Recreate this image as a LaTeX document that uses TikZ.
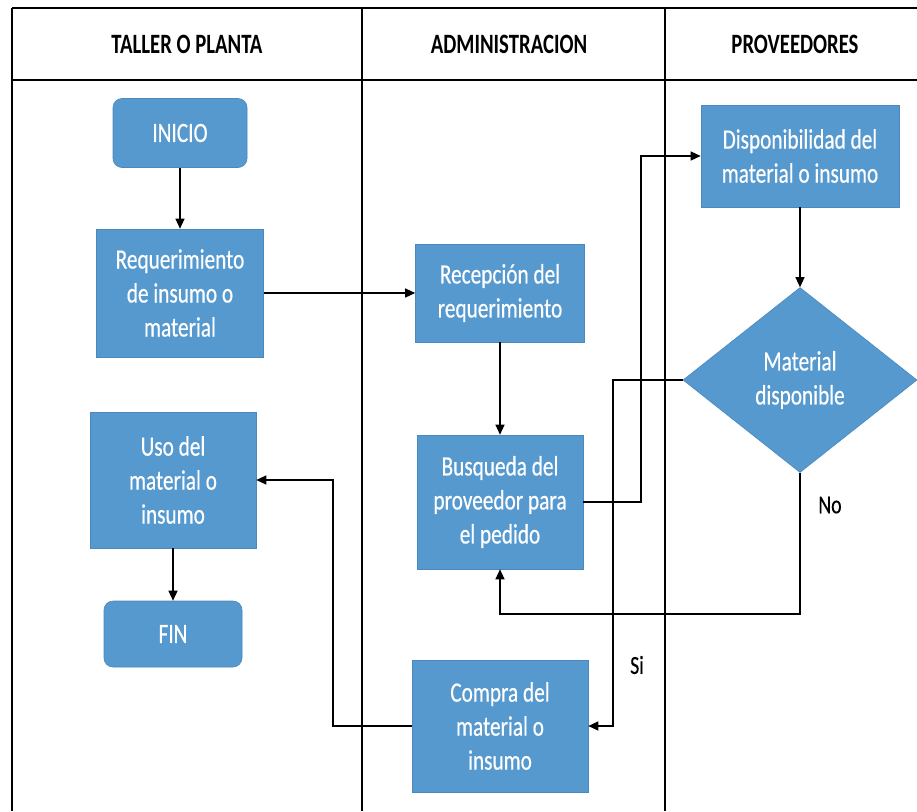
\documentclass[tikz,border=0pt]{standalone}
\usepackage{fontspec}
\usetikzlibrary{arrows.meta,shapes.geometric}
\newfontfamily\boxfont[FakeStretch=0.76,FakeBold=0.4]{Carlito}
\newfontfamily\headfont[FakeStretch=0.74]{Carlito}
\definecolor{boxblue}{HTML}{5699CF}
\definecolor{boxedge}{HTML}{4A88BF}
\tikzset{
  proc/.style={draw=boxedge, line width=0.6pt, fill=boxblue, text=white, align=center,
    font=\boxfont\fontsize{28}{34}\selectfont, inner sep=2pt},
  term/.style={proc, rounded corners=9pt},
  decis/.style={diamond, draw=boxedge, line width=0.6pt, fill=boxblue, text=white, align=center,
    font=\boxfont\fontsize{28}{34}\selectfont, inner sep=0pt, minimum width=234pt, minimum height=185pt},
  arr/.style={draw=black, line width=1.3pt, -{Triangle[length=10pt,width=9pt]}},
  lane/.style={draw=black, line width=1.4pt},
  head/.style={font=\headfont\bfseries\fontsize{28}{32}\selectfont, text=black},
  lbl/.style={font=\boxfont\fontsize{26}{30}\selectfont, text=black}
}
\begin{document}
\begin{tikzpicture}[x=1pt,y=-1pt]
\useasboundingbox (0,0) rectangle (917,811);
\fill[white] (0,0) rectangle (917,811);
% lanes
\draw[lane] (12,8) -- (917,8);
\draw[lane, line width=2pt] (12,80) -- (917,80);
\draw[lane] (12,8) -- (12,811);
\draw[lane] (362,8) -- (362,811);
\draw[lane] (665,8) -- (665,811);
% headers
\node[head] (h1) at (187,44) {TALLER O PLANTA};
\node[head] (h2) at (509,44) {ADMINISTRACION};
\node[head] (h3) at (795,44) {PROVEEDORES};
% nodes
\node[term, minimum width=134pt, minimum height=69pt] (ini) at (180,133) {INICIO};
\node[proc, minimum width=167pt, minimum height=128pt] (req) at (180,293) {Requerimiento\\de insumo o\\material};
\node[proc, minimum width=169pt, minimum height=98pt] (rec) at (500,293) {Recepción del\\requerimiento};
\node[proc, minimum width=166pt, minimum height=134pt] (bus) at (500,502) {Busqueda del\\proveedor para\\el pedido};
\node[proc, minimum width=166pt, minimum height=136pt] (uso) at (173,480) {Uso del\\material o\\insumo};
\node[term, minimum width=138pt, minimum height=66pt] (fin) at (173,634) {FIN};
\node[proc, minimum width=176pt, minimum height=132pt] (com) at (500,726) {Compra del\\material o\\insumo};
\node[proc, minimum width=198pt, minimum height=102pt] (disp) at (800,156) {Disponibilidad del\\material o insumo};
\node[decis] (dia) at (800,380) {Material\\disponible};
% labels
\node[lbl] (no) at (830,505) {No};
\node[lbl] (si) at (637,665) {Si};
% helper coordinates
\coordinate (c1) at (641,300);
\coordinate (c2) at (613,500);
\coordinate (c3) at (500,614);
\coordinate (c4) at (333,600);
% connectors
\draw[arr] (ini) -- (req);
\draw[arr] (req.east) -- (rec.west);
\draw[arr] (rec) -- (bus);
\draw[arr] (bus.east) -| (c1) |- (disp.west);
\draw[arr] (disp) -- (dia);
\draw[arr] (dia.west) -| (c2) |- (com.east);
\draw[arr] (dia.south) |- (c3) -- (bus.south);
\draw[arr] (com.west) -| (c4) |- (uso.east);
\draw[arr] (uso) -- (fin);
\end{tikzpicture}
\end{document}
